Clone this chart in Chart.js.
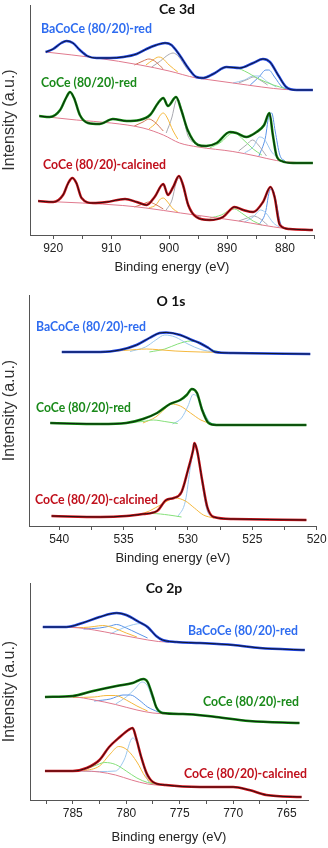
<!DOCTYPE html>
<html lang="en">
<head>
  <meta charset="UTF-8">
  <title>XPS Ce 3d / O 1s / Co 2p</title>
  <script src="https://cdn.jsdelivr.net/npm/chart.js"></script>
  <style>
    body { margin: 0; background: #fff; width: 328px; height: 848px; position: relative; overflow: hidden; }
    canvas { position: absolute; left: 0; }
  </style>
</head>
<body>
  <canvas id="ce" width="328" height="280" style="top:0"></canvas>
  <canvas id="o1s" width="328" height="291" style="top:280px"></canvas>
  <canvas id="co" width="328" height="283" style="top:565px"></canvas>

  <script>
    // ---- Ce 3d : [binding energy eV, intensity a.u.] ----
    const ceBa = [[921.3,183],[920.0,186],[918.6,192],[917.7,194],[916.6,192],[915.4,185],[914.1,179],[912.5,177],[910.2,177],[907.9,178],[905.6,181],[903.9,186],[902.2,190],[900.7,192],[899.6,190],[898.2,180],[896.7,167],[895.3,158],[894.1,157],[892.4,161],[890.1,168],[887.8,167],[885.5,172],[883.8,176],[882.6,173],[881.2,160],[879.8,148],[878.0,145],[875.2,145]];
    const ceCo = [[922.4,119],[920.6,118],[918.8,125],[917.7,138],[917.1,143],[916.4,137],[915.4,120],[914.0,112],[912.0,111],[909.7,116],[907.3,114],[905.1,115],[903.3,120],[901.9,132],[901.0,137],[900.2,129],[898.8,138],[897.9,125],[896.8,105],[895.0,90],[893.6,89],[891.8,92],[889.5,103],[888.4,102],[886.7,98],[884.9,103],[883.6,110],[882.7,122],[882.1,100],[881.5,80],[880.6,74],[878.6,72],[875.2,72]];
    const ceCa = [[922.6,34],[920.0,33],[918.3,40],[917.4,52],[916.7,57],[916.0,52],[915.1,37],[913.1,32],[910.8,33],[907.6,36],[905.6,33],[903.9,30],[902.5,38],[901.0,51],[900.2,40],[899.3,48],[898.3,59],[897.6,50],[896.7,30],[895.3,18],[893.0,15],[890.7,18],[888.7,28],[887.2,25],[885.5,23],[883.8,33],[882.5,48],[881.8,38],[880.9,10],[879.2,6],[875.2,5]];

    const ceBaBg = [[921.3,183],[912.5,177],[905,170],[900,164],[895.3,157],[894,156],[889,152],[884,148],[880,145.5],[875.2,145]];
    const ceCoBg = [[922.4,119],[916,115],[910,112],[904.5,107],[901,100],[898.2,92],[895,88],[889,83.5],[885,79],[881.5,74.5],[878,72.5],[875.2,72]];
    const ceCaBg = [[922.6,34],[915,32],[908,29.5],[904,27],[898,22],[893,18],[888,14],[884,10],[880,6.5],[878,5.5],[875.2,5]];

    const ceBaBrown = [[906,170],[904.5,174],[903.5,176],[902.5,174],[901,166]];
    const ceBaOrange = [[904,170],[902.8,175],[901.8,178],[901.2,177],[900,170],[898.5,163]];
    const ceBaGray = [[903,168],[901.5,174],[900.2,180],[899.3,182],[898.3,178],[897,167],[895.5,158]];
    const ceBaLime = [[894.5,156],[892,162],[890,168],[889,168],[887,164],[884.5,156],[882,150],[880,146.5]];
    const ceBaGray2 = [[888,152],[886.3,156],[885.5,158],[884.6,156],[883,150]];
    const ceBaLight = [[889,152],[887,155],[885.5,159],[884.5,159],[883,153],[881.5,148]];
    const ceBaBlue = [[886,150],[884.5,158],[883.3,165],[882.8,165],[881.8,158],[880.5,148],[879.5,146]];

    const ceCoBrown = [[906,109],[904.5,113],[903.5,116],[902.5,113],[901,104]];
    const ceCoOrange = [[903.5,106],[902.3,112],[901.5,120],[901,122],[900.4,118],[899.3,104],[898.5,96]];
    const ceCoGray = [[900.5,102],[899.5,118],[898.9,133],[898.5,136],[897.8,125],[896.8,100],[895.5,91]];
    const ceCoLime = [[893,87],[891,93],[889.5,101],[888.7,102],[887.5,97],[885.5,86],[884,80]];
    const ceCoGray2 = [[888,84],[886.7,90],[885.6,95],[884.6,90],[883.2,79]];
    const ceCoLight = [[887,82],[885.5,88],[884.4,98],[883.6,96],[882.3,83],[881,76]];
    const ceCoBlue = [[884.5,79],[883.4,97],[882.7,121],[882.3,122],[881.7,104],[880.9,80],[880,74]];

    const ceCaBrown = [[906,28],[904.5,31],[903.5,33],[902.5,31],[901,26]];
    const ceCaOrange = [[903.5,27],[902.3,30],[901.5,36],[901,37],[900.4,34],[899.3,26],[898.5,23]];
    const ceCaGray = [[900.5,25],[899.5,35],[898.8,52],[898.3,57],[897.7,50],[896.8,30],[895.5,20],[894.5,18]];
    const ceCaLime = [[893,17],[891,20],[889.5,25],[888.7,26],[887.5,22],[885.5,14],[884,10]];
    const ceCaGray2 = [[888,14],[886.5,17],[885.5,19],[884.5,17],[883,10]];
    const ceCaLight = [[887,13],[885.5,18],[884.2,25],[883.3,22],[882,12],[881,8]];
    const ceCaBlue = [[884.5,10],[883.4,22],[882.6,45],[882.2,46],[881.6,35],[880.8,12],[880,7]];

    // ---- O 1s ----
    const oBa = [[539.8,174],[536.8,174],[535.3,176],[534.0,181],[533.0,188],[532.2,193],[531.7,193.5],[530.6,191],[529.7,186],[529.1,183],[528.4,178],[527.9,174],[526.5,173],[520.5,172]];
    const oCo = [[540.7,103],[536.8,102],[534.8,103],[533.5,107],[532.4,113],[531.4,122],[530.6,126],[530.1,131],[529.7,137],[529.3,133],[528.9,116],[528.4,103],[527.8,101],[520.8,101]];
    const oCa = [[540.6,10],[536.8,9],[534.8,10],[533.5,12],[532.4,15],[531.7,26],[531.1,28],[530.5,34],[530.0,56],[529.6,76],[529.5,83],[529.3,76],[528.9,46],[528.5,19],[528.0,9],[526.5,7],[520.8,6]];

    const oBaOrange = [[536.5,174.3],[535,175.5],[534,176.5],[533.2,177],[532.3,176.3],[531,175],[529,174],[527,173.5]];
    const oBaLight = [[534.5,174.5],[533.3,179],[532.5,186],[531.8,191],[531,189],[530,182],[529,176.5],[528,174]];
    const oBaLime = [[533,174],[531.8,177],[530.8,182],[529.8,185],[529,183],[528.3,177],[527.5,174]];
    const oCoLime = [[535,103],[533.5,104.5],[532.7,106],[531.8,104.5],[530.8,102.5]];
    const oCoOrange = [[533.5,103],[532.5,109],[531.8,117],[531.3,122],[530.6,120],[529.8,113],[529,106],[528.3,102.5]];
    const oCoLight = [[531.2,102],[530.5,108],[530,120],[529.6,131.5],[529.2,128],[528.8,115],[528.3,104],[527.8,101.5]];
    const oCaLime = [[535.5,9.5],[534,11],[532.8,12.5],[531.5,11],[530.5,9]];
    const oCaOrange = [[534,10.5],[533,15],[532,22],[531,28],[530.2,25],[529.5,18],[528.8,11],[528,8]];
    const oCaLight = [[530.8,9],[530.2,25],[529.8,60],[529.5,80],[529.2,70],[528.9,42],[528.5,15],[528,8.5]];

    // ---- Co 2p ----
    const coBa = [[787.8,173],[785.6,173],[784.1,177],[782.5,183],[780.9,187],[780.0,185],[778.8,178],[778.0,173],[777.2,164],[776.6,160],[775.3,158],[773.1,157],[770.0,155],[767.5,152],[763.3,150]];
    const coCo = [[787.6,103],[785.0,104],[783.1,109],[780.9,114],[779.4,117],[778.4,121],[778.0,118],[777.5,103],[777.2,93],[776.6,87],[774.7,86],[771.6,83],[768.5,79],[763.8,77]];
    const coCa = [[787.6,29],[785.0,29],[783.7,32],[782.5,40],[781.6,53],[780.6,63],[779.8,70],[779.4,72],[779.1,63],[778.6,43],[778.1,27],[777.5,18],[776.3,15],[773.1,13],[770.0,13],[768.5,10],[766.9,5],[763.6,3]];

    const coBaBg = [[787.8,172.7],[785,172.5],[783,170],[781,166],[779,162],[777,158.5],[776,158]];
    const coBaOrange = [[786,172.5],[784,172.5],[783,173.5],[782.2,174.5],[781.3,172.5],[780,167],[779,163]];
    const coBaBlue = [[784,171],[782.5,172],[781.5,174],[780.9,175.5],[780,172],[779,167],[778,162]];
    const coBaLight = [[781.5,166],[780.3,172],[779.3,175.5],[778.6,176.5],[777.8,170],[777,162],[776.3,158.5]];
    const coCoBg = [[787.6,103],[785,103],[783,100],[781,95.5],[779,90],[777.5,87],[776,86]];
    const coCoOrange = [[785,102.5],[783,103],[781.8,104.5],[781,104.5],[780,100],[779,94],[778,89]];
    const coCoBlue = [[783,99],[781.5,101],[780.3,105],[779.6,105],[778.8,100],[778,93],[777,88]];
    const coCoLight = [[781,96],[780,103],[779.2,111],[778.5,118],[778,114],[777.5,100],[777,91],[776.5,87]];
    const coCaBg = [[787.6,29],[784,29],[782.5,28],[781,25],[779.5,20],[778,16],[776.5,14.5],[775,14]];
    const coCaLime = [[785.5,29],[784,30.5],[783,34],[782,37.5],[781,35.5],[780,29],[779,22],[778,17.5],[777,15.5]];
    const coCaOrange = [[784,29],[782.5,34],[781.5,46],[780.7,53.5],[779.9,50],[779,38],[778.2,23],[777.5,16]];
    const coCaLight = [[785,29],[782.5,28.5],[781,29],[780.2,40],[779.4,62],[778.9,55],[778.4,35],[778,20],[777.5,16]];

    const FONT = '"Liberation Sans", Arial, sans-serif';
    const BLUE = '#1e46e6', GREEN = '#0c8a0c', RED = '#d01018';
    const BG = '#e07a8e', ORANGE = '#f5b83d', GRAY = '#a9a9b0', LIME = '#86e07a',
          LIGHT = '#9cc8ee', CBLUE = '#5a94e8', BROWN = '#d2785a';

    function curve(pairs, color, width) {
      return {
        data: pairs.map(p => ({ x: p[0], y: p[1] })),
        borderColor: color, borderWidth: width, pointRadius: 0,
        fill: false, cubicInterpolationMode: 'monotone'
      };
    }

    // spectrum = colored measured line with the black fit envelope on top
    function spectra(list) {
      const out = [];
      list.forEach(s => out.push(curve(s[0], '#111', 0.9)));
      list.forEach(s => out.push(curve(s[0], s[1], 2.5)));
      return out;
    }

    function textLayer(items) {
      return {
        id: 'textLayer',
        afterDraw(chart) {
          const c = chart.ctx;
          items.forEach(t => {
            c.save();
            c.font = t.font;
            c.fillStyle = t.color;
            c.textAlign = t.align || 'left';
            c.textBaseline = 'middle';
            c.fillText(t.text, t.x, t.y, t.w);
            c.restore();
          });
        }
      };
    }

    function panel(id, o) {
      new Chart(document.getElementById(id), {
        type: 'line',
        data: { datasets: o.datasets },
        options: {
          responsive: false,
          animation: false,
          events: [],
          layout: { padding: { top: o.top, right: o.right, left: 0, bottom: 0 } },
          plugins: { legend: { display: false }, tooltip: { enabled: false } },
          scales: {
            x: {
              type: 'linear', reverse: true, min: o.xmin, max: o.xmax,
              border: { color: '#555', width: 1 },
              grid: { drawOnChartArea: false, drawTicks: true, tickLength: 4, color: '#555' },
              ticks: {
                stepSize: o.step, includeBounds: false, autoSkip: false, maxRotation: 0,
                padding: 2, color: '#222', font: { family: FONT, size: 12 },
                callback: v => (Math.abs(v % o.major) < 0.01 ? Math.round(v) : '')
              },
              title: { display: true, text: 'Binding energy (eV)', color: '#222',
                       font: { family: FONT, size: 13 }, padding: { top: 0, bottom: o.tpad } },
              afterFit: s => { s.height = o.xh; s.paddingLeft = 0; s.paddingRight = 0; }
            },
            y: {
              min: 0, max: o.ymax,
              ticks: { display: false },
              grid: { display: false },
              border: { color: '#555', width: 1 },
              title: { display: true, text: 'Intensity (a.u.)', color: '#333',
                       font: { family: FONT, size: 16 }, padding: { top: 0, bottom: 0 } },
              afterFit: s => { s.width = o.yw; s.paddingTop = 0; s.paddingBottom = 0; }
            }
          }
        },
        plugins: [textLayer(o.texts)]
      });
    }

    const LBL = 'bold 13px Lato, "Open Sans", sans-serif';
    const TTL = 'bold 14px Lato, "Open Sans", sans-serif';
    const LB = '#2e6cf0', LG = '#1a8a1a', LR = '#c0101c';

    panel('ce', {
      top: 5, right: 14, yw: 30, xh: 45, tpad: 5, xmin: 875, xmax: 924, step: 5, major: 10, ymax: 230,
      datasets: spectra([[ceBa, BLUE], [ceCo, GREEN], [ceCa, RED]]).concat([
        curve(ceBaBg, BG, 1), curve(ceCoBg, BG, 1), curve(ceCaBg, BG, 1),
        curve(ceBaBrown, BROWN, 1), curve(ceBaOrange, ORANGE, 1), curve(ceBaGray, GRAY, 1), curve(ceBaLime, LIME, 1),
        curve(ceBaGray2, GRAY, 1), curve(ceBaLight, LIGHT, 1), curve(ceBaBlue, CBLUE, 1),
        curve(ceCoBrown, BROWN, 1), curve(ceCoOrange, ORANGE, 1), curve(ceCoGray, GRAY, 1), curve(ceCoLime, LIME, 1),
        curve(ceCoGray2, GRAY, 1), curve(ceCoLight, LIGHT, 1), curve(ceCoBlue, CBLUE, 1),
        curve(ceCaBrown, BROWN, 1), curve(ceCaOrange, ORANGE, 1), curve(ceCaGray, GRAY, 1), curve(ceCaLime, LIME, 1),
        curve(ceCaGray2, GRAY, 1), curve(ceCaLight, LIGHT, 1), curve(ceCaBlue, CBLUE, 1)
      ]),
      texts: [
        { text: 'Ce 3d', x: 177, y: 9, font: TTL, color: '#111', align: 'center', w: 38 },
        { text: 'BaCoCe (80/20)-red', x: 41, y: 29, font: LBL, color: LB, w: 111 },
        { text: 'CoCe (80/20)-red', x: 41, y: 83, font: LBL, color: LG, w: 96 },
        { text: 'CoCe (80/20)-calcined', x: 43, y: 165, font: LBL, color: LR, w: 123 }
      ]
    });

    panel('o1s', {
      top: 15, right: 11.3, yw: 29, xh: 45, tpad: 5, xmin: 520, xmax: 542.35, step: 2.5, major: 5, ymax: 231,
      datasets: spectra([[oBa, BLUE], [oCo, GREEN], [oCa, RED]]).concat([
        curve(oBaOrange, ORANGE, 1), curve(oBaLight, LIGHT, 1), curve(oBaLime, LIME, 1),
        curve(oCoLime, LIME, 1), curve(oCoOrange, ORANGE, 1), curve(oCoLight, LIGHT, 1),
        curve(oCaLime, LIME, 1), curve(oCaOrange, ORANGE, 1), curve(oCaLight, LIGHT, 1)
      ]),
      texts: [
        { text: 'O 1s', x: 171, y: 21, font: TTL, color: '#111', align: 'center', w: 30 },
        { text: 'BaCoCe (80/20)-red', x: 36, y: 47, font: LBL, color: LB, w: 110 },
        { text: 'CoCe (80/20)-red', x: 36, y: 128, font: LBL, color: LG, w: 95 },
        { text: 'CoCe (80/20)-calcined', x: 35, y: 220, font: LBL, color: LR, w: 123 }
      ]
    });

    panel('co', {
      top: 18, right: 20, yw: 30, xh: 48, tpad: 3, xmin: 763, xmax: 789, step: 2.5, major: 5, ymax: 217,
      datasets: spectra([[coBa, BLUE], [coCo, GREEN], [coCa, RED]]).concat([
        curve(coBaBg, BG, 1), curve(coCoBg, BG, 1), curve(coCaBg, BG, 1),
        curve(coBaOrange, ORANGE, 1), curve(coBaBlue, CBLUE, 1), curve(coBaLight, LIGHT, 1),
        curve(coCoOrange, ORANGE, 1), curve(coCoBlue, CBLUE, 1), curve(coCoLight, LIGHT, 1),
        curve(coCaLime, LIME, 1), curve(coCaOrange, ORANGE, 1), curve(coCaLight, LIGHT, 1)
      ]),
      texts: [
        { text: 'Co 2p', x: 164, y: 23, font: TTL, color: '#111', align: 'center', w: 38 },
        { text: 'BaCoCe (80/20)-red', x: 188, y: 66, font: LBL, color: LB, w: 110 },
        { text: 'CoCe (80/20)-red', x: 203, y: 137, font: LBL, color: LG, w: 96 },
        { text: 'CoCe (80/20)-calcined', x: 184, y: 209, font: LBL, color: LR, w: 123 }
      ]
    });
  </script>
</body>
</html>
